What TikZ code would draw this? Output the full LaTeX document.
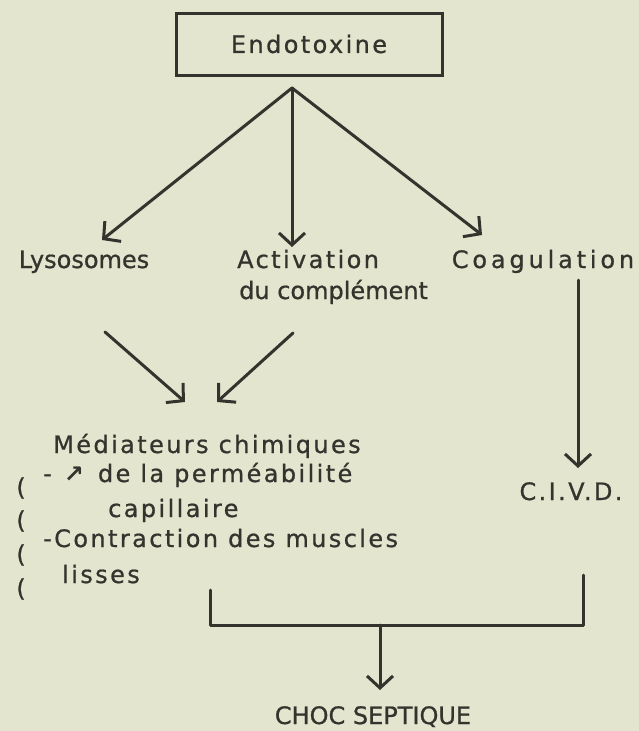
\documentclass[tikz,border=0pt]{standalone}
\usepackage{fontspec}
\setmainfont{DejaVu Sans}[LetterSpace=10,FakeBold=0.8]
\newfontfamily\tightfont{DejaVu Sans}[LetterSpace=0,FakeBold=0.8]
\newfontfamily\widefont{DejaVu Sans}[LetterSpace=16,FakeBold=0.8]
\newfontfamily\arrowfont{DejaVu Sans Bold}
\usetikzlibrary{arrows.meta}
\definecolor{paper}{RGB}{228,229,206}
\definecolor{ink}{RGB}{52,52,46}
\begin{document}
\begin{tikzpicture}[x=1pt,y=-1pt,
  txt/.style={inner sep=0pt, text=ink, font=\fontsize{24}{28}\selectfont},
  tighttxt/.style={inner sep=0pt, text=ink, font=\tightfont\fontsize{24}{28}\selectfont},
  widetxt/.style={inner sep=0pt, text=ink, font=\widefont\fontsize{24}{28}\selectfont},
  conn/.style={draw=ink, line width=3pt, line cap=round, line join=round},
  arr/.style={conn, -{Straight Barb[length=12pt,width=26pt]}},
  boxnode/.style={draw=ink, line width=3pt, minimum width=266pt, minimum height=62pt, inner sep=0pt}]
\fill[paper] (0,0) rectangle (639,731);
\useasboundingbox (0,0) rectangle (639,731);

% top box
\node[boxnode, txt] (endo) at (309,44) {Endotoxine};

% first level
\node[tighttxt, anchor=base] (lys) at (84,268) {Lysosomes};
\node[txt, anchor=base west] (act) at (237,268) {Activation};
\node[tighttxt, anchor=base west] (comp) at (239,299) {du complément};
\node[widetxt, anchor=base] (coa) at (543,268) {Coagulation};

\coordinate (o) at (292,88);
\coordinate (lysT) at (102,240);
\coordinate (actT) at (292,247);
\coordinate (coaT) at (482,235);
\draw[arr] (o) -- (lysT);
\draw[arr] (o) -- (actT);
\draw[arr] (o) -- (coaT);

% to mediators
\coordinate (l2) at (105,332);
\coordinate (l2t) at (185,402);
\coordinate (a2) at (293,333);
\coordinate (a2t) at (217,402);
\draw[arr] (l2) -- (l2t);
\draw[arr] (a2) -- (a2t);

% mediators block
\node[txt, anchor=base west] (med) at (53,453) {Médiateurs chimiques};
\node[txt, anchor=base west] (perm) at (43,482) {-\hspace*{12pt}{\arrowfont ↗}\hspace*{14pt}de la perméabilité};
\node[txt, anchor=base west] (capi) at (108,517) {capillaire};
\node[txt, anchor=base west] (contr) at (43,547) {-Contraction des muscles};
\node[txt, anchor=base west] (lis) at (62,583) {lisses};
\node[txt] (p1) at (21,488) {(};
\node[txt] (p2) at (21,521) {(};
\node[txt] (p3) at (21,555) {(};
\node[txt] (p4) at (21,589) {(};

% coagulation branch
\coordinate (c1) at (578,280);
\coordinate (c1t) at (578,468);
\draw[arr] (c1) -- (c1t);
\node[txt, anchor=base] (civd) at (571,500) {C.I.V.D.};

% bottom bracket
\coordinate (bl) at (210,590);
\coordinate (blc) at (210,625);
\coordinate (brc) at (583,625);
\coordinate (br) at (583,575);
\draw[conn] (bl) -- (blc) -- (brc) -- (br);
\coordinate (bm) at (380,625);
\coordinate (bt) at (380,690);
\draw[arr] (bm) -- (bt);
\node[tighttxt, anchor=base] (choc) at (373,724) {CHOC SEPTIQUE};
\end{tikzpicture}
\end{document}
